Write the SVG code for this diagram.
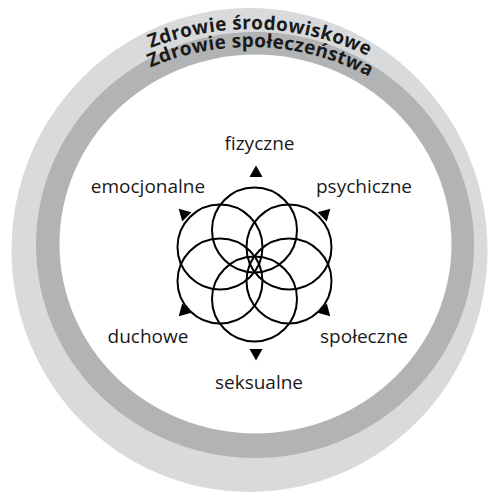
<svg xmlns="http://www.w3.org/2000/svg" xmlns:xlink="http://www.w3.org/1999/xlink" width="490" height="492" viewBox="0 0 490 492">
  <style>
    .ring-outer { fill: #d9dadc; }
    .ring-inner { fill: #b2b3b5; }
    .core { fill: #ffffff; }
    .petal { fill: none; stroke: #000000; stroke-width: 2; }
    .tip { fill: #000000; }
    .label { font-family: "Open Sans", "Noto Sans", "Liberation Sans", sans-serif; font-size: 19px; fill: #1a1a1a; text-anchor: middle; }
    .arc-title { font-family: "Open Sans", "Noto Sans", "Liberation Sans", sans-serif; font-size: 19px; font-weight: bold; letter-spacing: 0.3px; fill: #1a1a1a; }
  </style>
  <defs>
    <!-- small pointer triangle, tip pointing up, centred at origin -->
    <polygon id="pointer" points="0,-7.5 6.5,4 -6.5,4"/>
    <!-- baselines of the two band titles -->
    <path id="arc-env" d="M -1,197.8 A 271.5 271.5 0 0 1 508.4,216.7"/>
    <path id="arc-soc" d="M 16.3,203.2 A 253 253 0 0 1 491.3,223.9"/>
  </defs>

  <!-- surrounding bands -->
  <g id="bands">
    <ellipse class="ring-outer" cx="249.5" cy="250" rx="238" ry="242"/>
    <ellipse class="ring-inner" cx="255" cy="245" rx="219" ry="213"/>
    <ellipse class="core" cx="255.5" cy="244" rx="196" ry="189.5"/>
  </g>

  <g id="band-titles">
    <text class="arc-title"><textPath xlink:href="#arc-env" href="#arc-env" startOffset="50%" text-anchor="middle">Zdrowie środowiskowe</textPath></text>
    <text class="arc-title"><textPath xlink:href="#arc-soc" href="#arc-soc" startOffset="50%" text-anchor="middle">Zdrowie społeczeństwa</textPath></text>
  </g>

  <!-- six overlapping dimensions -->
  <g id="fizyczne">
    <circle class="petal" cx="254.5" cy="230" r="42.5"/>
    <use class="tip" href="#pointer" xlink:href="#pointer" transform="translate(256,173)"/>
    <text class="label" x="259.5" y="150">fizyczne</text>
  </g>
  <g id="psychiczne">
    <circle class="petal" cx="289" cy="247" r="42.5"/>
    <use class="tip" href="#pointer" xlink:href="#pointer" transform="translate(325,214) rotate(45)"/>
    <text class="label" x="364" y="193">psychiczne</text>
  </g>
  <g id="spoleczne">
    <circle class="petal" cx="289" cy="281" r="42.5"/>
    <use class="tip" href="#pointer" xlink:href="#pointer" transform="translate(325,311) rotate(135)"/>
    <text class="label" x="364" y="343">społeczne</text>
  </g>
  <g id="seksualne">
    <circle class="petal" cx="254.5" cy="299" r="42.5"/>
    <use class="tip" href="#pointer" xlink:href="#pointer" transform="translate(256,353) rotate(180)"/>
    <text class="label" x="259" y="389">seksualne</text>
  </g>
  <g id="duchowe">
    <circle class="petal" cx="220" cy="281" r="42.5"/>
    <use class="tip" href="#pointer" xlink:href="#pointer" transform="translate(184,311) rotate(-135)"/>
    <text class="label" x="148" y="343">duchowe</text>
  </g>
  <g id="emocjonalne">
    <circle class="petal" cx="220" cy="247" r="42.5"/>
    <use class="tip" href="#pointer" xlink:href="#pointer" transform="translate(184,214) rotate(-45)"/>
    <text class="label" x="148" y="193">emocjonalne</text>
  </g>
  <g id="connectors"/>
</svg>
